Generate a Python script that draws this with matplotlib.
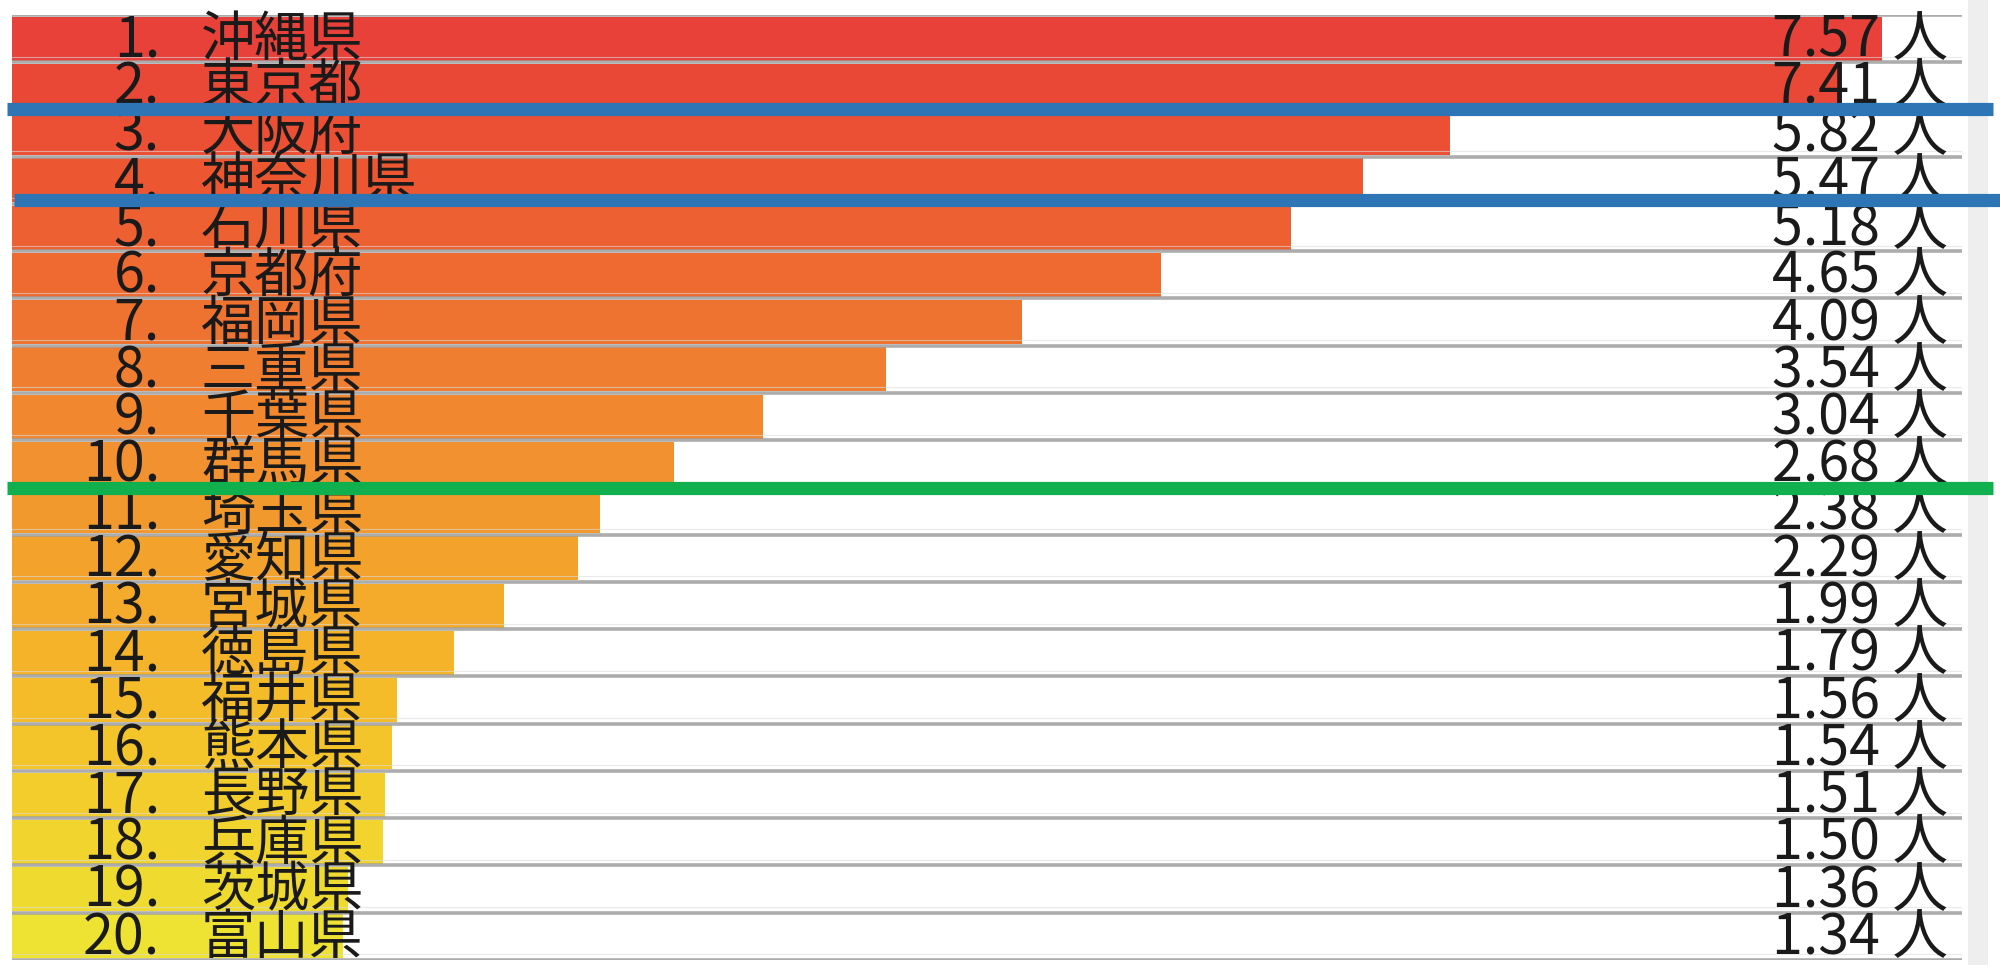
import matplotlib
matplotlib.use("Agg")
import matplotlib.pyplot as plt
from matplotlib.colors import LinearSegmentedColormap
from matplotlib.patches import Rectangle
import matplotlib.transforms as mtransforms

plt.rcParams['font.family'] = ['Noto Sans CJK JP', 'DejaVu Sans']

ranks = list(range(1, 21))
prefectures = ["沖縄県", "東京都", "大阪府", "神奈川県", "石川県", "京都府", "福岡県",
               "三重県", "千葉県", "群馬県", "埼玉県", "愛知県", "宮城県", "徳島県",
               "福井県", "熊本県", "長野県", "兵庫県", "茨城県", "富山県"]
values = [7.57, 7.41, 5.82, 5.47, 5.18, 4.65, 4.09, 3.54, 3.04, 2.68,
          2.38, 2.29, 1.99, 1.79, 1.56, 1.54, 1.51, 1.50, 1.36, 1.34]
unit = "人"

W, H = 2000, 965
fig = plt.figure(figsize=(W / 100, H / 100), dpi=100, facecolor="white")

ax_left, ax_right = 12, 1962
ax_top, ax_bottom = 15, 960
ax = fig.add_axes([ax_left / W, 1 - ax_bottom / H, (ax_right - ax_left) / W, (ax_bottom - ax_top) / H])
ax.set_facecolor("white")
ax.set_zorder(2)

# light grey strip at the right edge
fig.patches.append(Rectangle(((ax_right + 6) / W, 0), 20 / W, 1.0,
                             transform=fig.transFigure, facecolor="#eeeeee", edgecolor="none", zorder=0))

cmap = LinearSegmentedColormap.from_list(
    "rk", ["#e8413a", "#ec5532", "#ef6e30", "#f18a30", "#f3a02c", "#f5b828", "#f2cf2c", "#eee232"])
n = len(values)
ys = list(range(n))
colors = [cmap(i / (n - 1)) for i in ys]

ax.barh(ys, values, height=0.93, color=colors, edgecolor="none", zorder=2)

xmax = (ax_right - ax_left) / 247.0
ax.set_xlim(0, xmax)
ax.set_ylim(n - 0.5, -0.5)

# row separators
for i in range(n + 1):
    ax.axhline(i - 0.5, color="#9e9e9e", lw=2.6, alpha=0.85, zorder=3)
    ax.axhline(i - 0.5 - 0.12, color="#dcdcdc", lw=0.8, alpha=0.6, zorder=3)

trans = mtransforms.blended_transform_factory(ax.transAxes, ax.transData)
fs_num = 40
fs_name = 39
for i, (r, p, v) in enumerate(zip(ranks, prefectures, values)):
    ax.text((160 - ax_left) / (ax_right - ax_left), i + 0.04, f"{r}.", transform=trans,
            ha="right", va="center", fontsize=fs_num, color="#1a1a1a", zorder=5)
    ax.text((201 - ax_left) / (ax_right - ax_left), i + 0.04, p, transform=trans,
            ha="left", va="center", fontsize=fs_name, color="#1a1a1a", zorder=5)
    ax.text((1948 - ax_left) / (ax_right - ax_left), i + 0.04, f"{v:.2f} {unit}", transform=trans,
            ha="right", va="center", fontsize=fs_num, color="#1a1a1a", zorder=5)

# highlight lines
def hline(y_row, x0px, x1px, color):
    ax.axhline(y_row, xmin=(x0px - ax_left) / (ax_right - ax_left),
               xmax=(x1px - ax_left) / (ax_right - ax_left),
               color=color, lw=9.5, clip_on=False, zorder=10, solid_capstyle="butt")

hline(1.5, 7, 1993, "#2e75b6")
hline(3.42, 14, 2000, "#2e75b6")
hline(9.52, 7, 1993, "#11b04f")

ax.set_xticks([])
ax.set_yticks([])
for s in ax.spines.values():
    s.set_visible(False)

fig.savefig("out.png", dpi=100, facecolor="white")
